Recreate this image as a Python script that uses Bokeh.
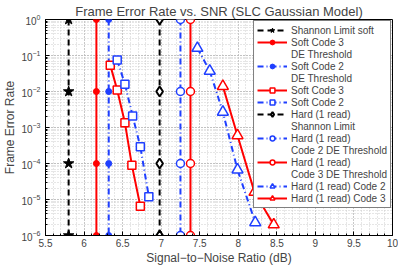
from bokeh.plotting import figure
from bokeh.models import Legend, LegendItem, FixedTicker
from bokeh.embed import file_html
from bokeh.resources import INLINE

# ---- data ----
dens_y = [1.0, 1e-2, 1e-4, 1e-6]

shannon_soft_x = [5.80, 5.80, 5.80, 5.80]
soft3_de_x = [6.16, 6.16, 6.16, 6.16]
soft2_de_x = [6.32, 6.32, 6.32, 6.32]
hard_shannon_x = [6.98, 6.98, 6.98, 6.98]
hard2_de_x = [7.25, 7.25, 7.25, 7.25]
hard3_de_x = [7.38, 7.38, 7.38, 7.38]

soft3_x = [6.34, 6.43, 6.53, 6.62, 6.73]
soft3_y = [5.4e-2, 1.1e-2, 1.35e-3, 9e-5, 6.5e-6]

soft2_x = [6.43, 6.53, 6.63, 6.73, 6.84]
soft2_y = [7.5e-2, 1.6e-2, 2.1e-3, 2.9e-4, 1.2e-5]

hard2_x = [7.47, 7.63, 7.80, 7.99, 8.22]
hard2_y = [1.6e-1, 3.7e-2, 2.7e-3, 6.7e-5, 2.3e-6]

hard3_x = [7.80, 7.99, 8.21, 8.46]
hard3_y = [1.4e-2, 6e-4, 1.6e-5, 2e-6]

x_ticks = [5.5, 6, 6.5, 7, 7.5, 8, 8.5, 9, 9.5, 10]
x_minor = [5.5 + 0.1 * i for i in range(46)]

FONT = "Liberation Sans"
RED = "#ff0000"
BLUE = "#1f3fff"

p = figure(frame_width=347, frame_height=216, y_axis_type="log",
           x_range=(5.5, 10), y_range=(1e-6, 1),
           output_backend="svg", toolbar_location=None,
           title="Frame Error Rate vs. SNR (SLC Gaussian Model)",
           min_border_left=38, min_border_right=6, min_border_top=0, min_border_bottom=0)

p.title.align = "center"
p.title.text_font = FONT
p.title.text_font_size = "13px"
p.title.text_font_style = "normal"
p.title.standoff = 2
p.title.offset = 0

p.xaxis.axis_label = "Signal\u2212to\u2212Noise Ratio (dB)"
p.yaxis.axis_label = "Frame Error Rate"
for ax in (p.xaxis[0], p.yaxis[0]):
    ax.axis_label_text_font = FONT
    ax.axis_label_text_font_size = "12px"
    ax.axis_label_text_font_style = "normal"
    ax.axis_label_text_line_height = 1.0
    ax.major_label_text_font = FONT
    ax.major_label_text_font_size = "10px"
    ax.major_label_text_line_height = 1.0
    ax.major_tick_in = 4
    ax.major_tick_out = 0
    ax.minor_tick_in = 2
    ax.minor_tick_out = 0
    ax.axis_line_color = "black"
    ax.major_tick_line_color = "black"
    ax.minor_tick_line_color = "black"

p.xaxis.axis_label_standoff = 1
p.xaxis.major_label_standoff = 3
p.yaxis.axis_label_standoff = 1
p.yaxis.major_label_standoff = 5

p.xaxis.ticker = FixedTicker(ticks=x_ticks, minor_ticks=x_minor)

p.outline_line_color = "black"
p.outline_line_alpha = 1.0

p.xgrid.grid_line_color = "#aaaaaa"
p.xgrid.grid_line_dash = "1 2"
p.xgrid.minor_grid_line_color = "#cccccc"
p.xgrid.minor_grid_line_dash = "1 2"
p.ygrid.grid_line_color = "#aaaaaa"
p.ygrid.grid_line_dash = "1 2"
p.ygrid.minor_grid_line_color = "#cccccc"
p.ygrid.minor_grid_line_dash = "1 2"

items = []
blank = p.line(x=[], y=[], line_alpha=0)


def add(label, x, y, color, dash, marker, size, fill, lw=2, mlw=1.5):
    r1 = p.line(x, y, line_color=color, line_width=lw, line_dash=dash)
    r2 = p.scatter(x, y, marker=marker, size=size, line_color=color,
                   fill_color=fill, line_width=mlw)
    lines = label.split("\n")
    items.append(LegendItem(label=lines[0], renderers=[r1, r2]))
    for extra in lines[1:]:
        items.append(LegendItem(label=extra, renderers=[blank]))


add("Shannon Limit soft", shannon_soft_x, dens_y, "black", "6 4", "star", 11, "black", mlw=1)
add("Soft Code 3\nDE Threshold", soft3_de_x, dens_y, RED, "solid", "circle", 6, RED, mlw=1)
add("Soft Code 2\nDE Threshold", soft2_de_x, dens_y, BLUE, "6 3 1 3", "circle", 6, BLUE, mlw=1)
add("Soft Code 3", soft3_x, soft3_y, RED, "solid", "square", 8, "white")
add("Soft Code 2", soft2_x, soft2_y, BLUE, "6 3 1 3", "square", 8, "white")
add("Hard (1 read)\nShannon Limit", hard_shannon_x, dens_y, "black", "6 4", "diamond", 10, "white", mlw=2)
add("Hard (1 read)\nCode 2 DE Threshold", hard2_de_x, dens_y, BLUE, "6 3 1 3", "circle", 8, "white")
add("Hard (1 read)\nCode 3 DE Threshold", hard3_de_x, dens_y, RED, "solid", "circle", 8, "white")
add("Hard (1 read) Code 2", hard2_x, hard2_y, BLUE, "6 3 1 3", "triangle", 11, "white")
add("Hard (1 read) Code 3", hard3_x, hard3_y, RED, "solid", "triangle", 11, "white")

legend = Legend(items=items, location="top_right", margin=1,
                label_text_font=FONT, label_text_font_size="10px",
                label_text_line_height=1.0,
                label_standoff=4, glyph_width=30, glyph_height=12,
                label_height=12, spacing=0, padding=3,
                border_line_color="black", border_line_width=1,
                background_fill_color="white", background_fill_alpha=1.0)
p.add_layout(legend)

open("out.html", "w").write(file_html(p, INLINE))
